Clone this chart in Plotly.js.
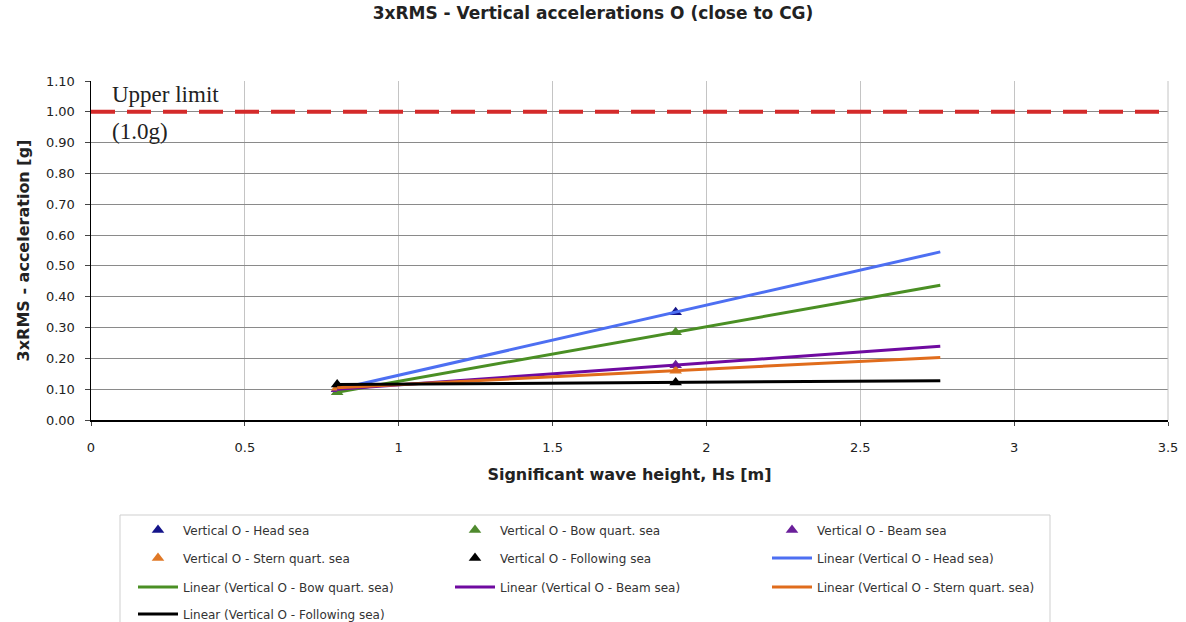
<!DOCTYPE html>
<html>
<head>
<meta charset="utf-8">
<script src="https://cdn.plot.ly/plotly-3.0.1.min.js"></script>
<style>html,body{margin:0;padding:0;background:#fff;}#chart{width:1186px;height:622px;}</style>
</head>
<body>
<div id="chart"></div>
<script>
// Data
const hs = [0.8, 1.9];
const headSea = [0.10, 0.35];
const bowQuartSea = [0.09, 0.285];
const beamSea = [0.10, 0.178];
const sternQuartSea = [0.105, 0.16];
const followingSea = [0.115, 0.122];
const trendEnd = 2.76;          // forward forecast end of the Excel trendlines
const upperLimit = 1.0;

const seriesNames = ["Head sea", "Bow quart. sea", "Beam sea", "Stern quart. sea", "Following sea"];
const seriesValues = [headSea, bowQuartSea, beamSea, sternQuartSea, followingSea];
const markerColors = ["#14148a", "#4f8a2e", "#6a1f9a", "#e07826", "#000000"];
const lineColors = ["#4d6ff2", "#4a8f24", "#6f0aa0", "#e06c1c", "#000000"];

function linFit(xs, ys) {
  const n = xs.length;
  const mx = xs.reduce((a, b) => a + b, 0) / n;
  const my = ys.reduce((a, b) => a + b, 0) / n;
  let sxy = 0, sxx = 0;
  for (let i = 0; i < n; i++) { sxy += (xs[i] - mx) * (ys[i] - my); sxx += (xs[i] - mx) ** 2; }
  const m = sxy / sxx;
  return x => my + m * (x - mx);
}

// legend rows: 3 entries per row, in the order of the traces
const legendIds = ["legend", "legend2", "legend3", "legend4"];
const traces = [];
seriesNames.forEach((nm, i) => {
  traces.push({
    x: hs, y: seriesValues[i], type: "scatter", mode: "markers",
    name: "Vertical O - " + nm,
    marker: {symbol: "triangle-up", size: 11, color: markerColors[i]}
  });
});
seriesNames.forEach((nm, i) => {
  const f = linFit(hs, seriesValues[i]);
  const xs = [hs[0], trendEnd];
  traces.push({
    x: xs, y: xs.map(f), type: "scatter", mode: "lines",
    name: "Linear (Vertical O - " + nm + ")",
    line: {color: lineColors[i], width: 3}
  });
});
traces.forEach((t, k) => { t.legend = legendIds[Math.floor(k / 3)]; });

const FONT = "DejaVu Sans, Verdana, sans-serif";
const plotTop = 81, plotBottom = 420, plotLeft = 91, plotRight = 1168;
const py = p => (plotBottom - p) / (plotBottom - plotTop);   // pixel row -> paper y
const px = p => (p - plotLeft) / (plotRight - plotLeft);     // pixel col -> paper x
const rowY = [530, 558, 587, 614];

const layout = {
  width: 1186, height: 622,
  paper_bgcolor: "#fff", plot_bgcolor: "#fff",
  margin: {l: plotLeft, r: 1186 - plotRight, t: plotTop, b: 622 - plotBottom, autoexpand: false},
  font: {family: FONT, color: "#222", size: 13},
  title: {text: "<b>3xRMS - Vertical accelerations O (close to CG)</b>", x: 0.5, xanchor: "center",
          y: 0.988, yanchor: "top", font: {size: 17, color: "#222", family: FONT}},
  xaxis: {range: [0, 3.5], dtick: 0.5, tick0: 0, showgrid: true, gridcolor: "#c4c4c4", gridwidth: 1,
          zeroline: false, showline: true, linecolor: "#000", linewidth: 1.5, ticks: "outside", ticklen: 4, tickcolor: "#444",
          ticklabelstandoff: 11, tickfont: {size: 13, color: "#222", family: FONT},
          title: {text: "<b>Significant wave height, Hs [m]</b>", font: {size: 16, color: "#222", family: FONT}, standoff: 14}},
  yaxis: {range: [0, 1.1], dtick: 0.1, tick0: 0, tickformat: ".2f", showgrid: true, gridcolor: "#8a8a8a", gridwidth: 1,
          zeroline: false, showline: true, linecolor: "#000", linewidth: 1.5, ticks: "outside", ticklen: 5, tickcolor: "#444",
          ticklabelstandoff: 7, tickfont: {size: 13, color: "#222", family: FONT},
          title: {text: "<b>3xRMS - acceleration [g]</b>", font: {size: 16, color: "#222", family: FONT}, standoff: 12}},
  shapes: [
    {type: "line", xref: "paper", x0: 0, x1: 1, yref: "y", y0: upperLimit, y1: upperLimit,
     line: {color: "#d42a2a", width: 4, dash: "24px,12px"}},
    {type: "line", xref: "paper", x0: 1, x1: 1, yref: "paper", y0: 0, y1: 1, line: {color: "#c4c4c4", width: 1}},
    {type: "rect", xref: "paper", yref: "paper", x0: px(120), x1: px(1050), y0: py(515), y1: py(630),
     line: {color: "#cfcfcf", width: 1}, fillcolor: "rgba(0,0,0,0)", layer: "below"}
  ],
  annotations: [
    {xref: "paper", yref: "y", x: 0.018, y: 1.055, xanchor: "left", yanchor: "middle", showarrow: false,
     text: "Upper limit", font: {family: "Liberation Serif, Times New Roman, serif", size: 23, color: "#222"}},
    {xref: "paper", yref: "y", x: 0.018, y: 0.935, xanchor: "left", yanchor: "middle", showarrow: false,
     text: "(1.0g)", font: {family: "Liberation Serif, Times New Roman, serif", size: 23, color: "#222"}}
  ],
  showlegend: true
};
legendIds.forEach((id, r) => {
  layout[id] = {orientation: "h", x: px(133), xanchor: "left", y: py(rowY[r]), yanchor: "middle",
                entrywidth: 262, entrywidthmode: "pixels", bgcolor: "rgba(0,0,0,0)", borderwidth: 0,
                font: {size: 12, color: "#333", family: FONT}, itemwidth: 40, traceorder: "normal"};
});

Plotly.newPlot("chart", traces, layout, {displayModeBar: false, staticPlot: true});
</script>
</body>
</html>
